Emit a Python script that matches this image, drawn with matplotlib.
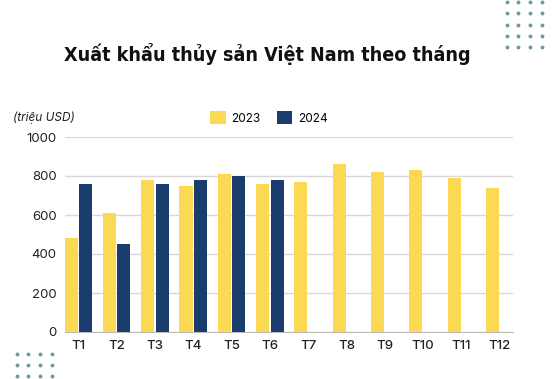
import numpy as np
import matplotlib.pyplot as plt
from matplotlib import font_manager

months = ["T1", "T2", "T3", "T4", "T5", "T6", "T7", "T8", "T9", "T10", "T11", "T12"]
val2023 = [480, 610, 780, 750, 810, 760, 770, 860, 820, 830, 790, 740]
val2024 = [760, 450, 760, 780, 800, 780]
yticks = [0, 200, 400, 600, 800, 1000]

yellow = "#fcd955"
navy = "#1b3d6e"
teal = "#6f9aa0"

names = set(f.name for f in font_manager.fontManager.ttflist)
tick_font = "Inter" if "Inter" in names else "DejaVu Sans"

# look for a bold condensed face for the title
cands = []
for f in font_manager.fontManager.ttflist:
    fn = f.fname.lower()
    if ("condensed" in fn or "narrow" in fn) and ("bold" in fn) and "italic" not in fn and "oblique" not in fn:
        cands.append(f.fname)
cands.sort(key=lambda p: ("extrabold" in p.lower() or "semibold" in p.lower(), p))
if cands:
    title_prop = font_manager.FontProperties(fname=cands[0])
else:
    title_prop = font_manager.FontProperties(family="DejaVu Sans", weight="bold")

fig = plt.figure(figsize=(5.55, 3.79), dpi=100)
ax = fig.add_axes([65/555, 1 - 332/379, (513 - 65)/555, (332 - 137)/379])

x = np.arange(len(months))
w = 0.34
ax.bar(x[:len(val2023)] - w/2 - 0.02, val2023, width=w, color=yellow, label="2023", zorder=3)
ax.bar(x[:len(val2024)] + w/2 + 0.02, val2024, width=w, color=navy, label="2024", zorder=3)

ax.set_xlim(-0.35, 11.35)
ax.set_ylim(0, 1000)
ax.set_yticks(yticks)
ax.set_xticks(x)
ax.set_xticklabels(months, fontfamily=tick_font, fontweight="medium", fontsize=9.5, color="#222222")
for lab in ax.get_yticklabels():
    lab.set_fontfamily(tick_font)
    lab.set_fontsize(9.5)
    lab.set_color("#222222")
ax.tick_params(length=0, pad=6)
ax.grid(axis="y", color="#d9d9d9", linewidth=1, zorder=0)
for s in ["top", "right", "left"]:
    ax.spines[s].set_visible(False)
ax.spines["bottom"].set_color("#bbbbbb")

title = fig.text(267/555, 1 - 54/379, "Xuất khẩu thủy sản Việt Nam theo tháng", ha="center", va="center",
                 fontproperties=title_prop, fontsize=20, color="#111111")
# fit the title width to about 407 px
r = fig.canvas.get_renderer()
tw = title.get_window_extent(r).width
title.set_fontsize(min(24, 20 * 407 / tw))

fig.text(13/555, 1 - 118/379, "(triệu USD)", ha="left", va="center", fontstyle="italic",
         fontfamily=tick_font, fontsize=8.5, color="#222222")
fig.legend(loc="center", bbox_to_anchor=(269/555, 1 - 118/379), ncol=2, frameon=False,
           handlelength=1.3, handleheight=1.2, columnspacing=1.35, handletextpad=0.5,
           prop={"family": tick_font, "size": 8.5})

# decorative dot grids
for xs, ys in [([507, 518, 530, 542], [2, 13, 25, 36, 47]), ([17, 28, 40, 52], [354, 365, 376])]:
    gx, gy = np.meshgrid(xs, ys)
    fig.add_artist(plt.Line2D(gx.ravel()/555, 1 - gy.ravel()/379, linestyle="none", marker="o",
                              markersize=1.8, color=teal, transform=fig.transFigure))

fig.savefig("out.png", dpi=100)
